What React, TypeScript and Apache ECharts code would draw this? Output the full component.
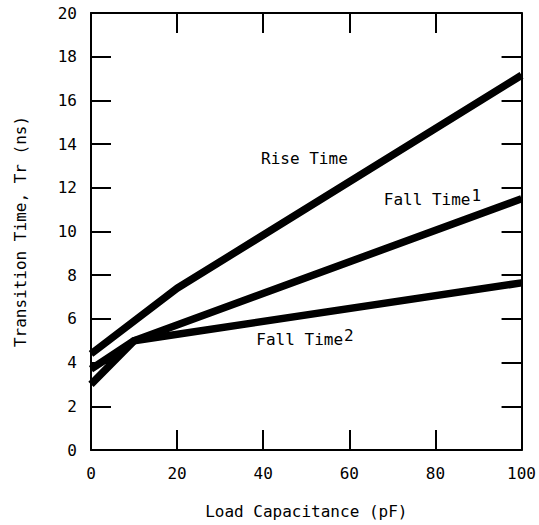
import React, { useEffect, useRef } from "react";
import * as echarts from "echarts";

const riseX = [0, 20, 100];
const riseY = [4.4, 7.4, 17.15];
const fall1X = [0, 10, 100];
const fall1Y = [3.0, 5.0, 11.5];
const fall2X = [0, 10, 100];
const fall2Y = [3.7, 5.0, 7.65];

const xTicks = [0, 20, 40, 60, 80, 100];
const yTicks = [0, 2, 4, 6, 8, 10, 12, 14, 16, 18, 20];

// annotation positions in data coordinates: [x, y, text, superscript]
const labels: [number, number, string, string][] = [
  [39.5, 13.35, "Rise Time", ""],
  [68, 11.45, "Fall Time", "1"],
  [38.4, 5.05, "Fall Time", "2"],
];

const FONT = "'DejaVu Sans Mono', monospace";

const zip = (xs: number[], ys: number[]) => xs.map((x, i) => [x, ys[i]]);

export default function App() {
  const ref = useRef<HTMLDivElement>(null);
  useEffect(() => {
    if (!ref.current) return;
    const chart = echarts.init(ref.current, null, { renderer: "svg" });
    const axisCommon = {
      axisLine: { show: true, onZero: false, lineStyle: { color: "#000", width: 2 } },
      axisTick: { show: true, inside: true, length: 20, lineStyle: { color: "#000", width: 2 } },
      splitLine: { show: false },
    };
    const lineSeries = (name: string, data: number[][]) => ({
      name,
      type: "line",
      data,
      symbol: "none",
      lineStyle: { color: "#000", width: 7.5 },
      itemStyle: { color: "#000" },
    });
    chart.setOption({
      animation: false,
      backgroundColor: "#fff",
      grid: { left: 91, right: 12, top: 13, bottom: 75, containLabel: false },
      xAxis: [
        {
          type: "value",
          min: 0,
          max: 100,
          interval: 20,
          position: "bottom",
          name: "Load Capacitance (pF)",
          nameLocation: "middle",
          nameGap: 53,
          nameTextStyle: { fontFamily: FONT, fontSize: 16, color: "#000" },
          axisLabel: {
            fontFamily: FONT,
            fontSize: 16,
            color: "#000",
            margin: 15,
            formatter: (v: number) => (xTicks.includes(v) ? String(v) : ""),
          },
          ...axisCommon,
        },
        {
          type: "value",
          min: 0,
          max: 100,
          interval: 20,
          position: "top",
          axisLabel: { show: false },
          ...axisCommon,
        },
      ],
      yAxis: [
        {
          type: "value",
          min: 0,
          max: 20,
          interval: 2,
          position: "left",
          name: "Transition Time, Tr (ns)",
          nameLocation: "middle",
          nameGap: 63,
          nameTextStyle: { fontFamily: FONT, fontSize: 16, color: "#000" },
          axisLabel: {
            fontFamily: FONT,
            fontSize: 16,
            color: "#000",
            margin: 14,
            formatter: (v: number) => (yTicks.includes(v) ? String(v) : ""),
          },
          ...axisCommon,
        },
        {
          type: "value",
          min: 0,
          max: 20,
          interval: 2,
          position: "right",
          axisLabel: { show: false },
          ...axisCommon,
        },
      ],
      series: [
        lineSeries("Rise Time", zip(riseX, riseY)),
        lineSeries("Fall Time 1", zip(fall1X, fall1Y)),
        lineSeries("Fall Time 2", zip(fall2X, fall2Y)),
      ],
    });

    const charW = 16 * 0.602;
    const graphics: any[] = [];
    labels.forEach(([x, y, text, sup]) => {
      const p = chart.convertToPixel({ xAxisIndex: 0, yAxisIndex: 0 }, [x, y]) as number[];
      graphics.push({
        type: "text",
        x: p[0],
        y: p[1],
        style: {
          text,
          font: `16px ${FONT}`,
          fill: "#000",
          textAlign: "left",
          textVerticalAlign: "middle",
          verticalAlign: "middle",
        },
      });
      if (sup) {
        graphics.push({
          type: "text",
          x: p[0] + text.length * charW + 1,
          y: p[1] - 4,
          style: {
            text: sup,
            font: `16px ${FONT}`,
            fill: "#000",
            textAlign: "left",
            textVerticalAlign: "middle",
            verticalAlign: "middle",
          },
        });
      }
    });
    chart.setOption({ graphic: graphics });

    return () => chart.dispose();
  }, []);
  return (
    <div
      ref={ref}
      style={{ position: "fixed", left: 0, top: 0, width: 539, height: 525, background: "#fff" }}
    />
  );
}
